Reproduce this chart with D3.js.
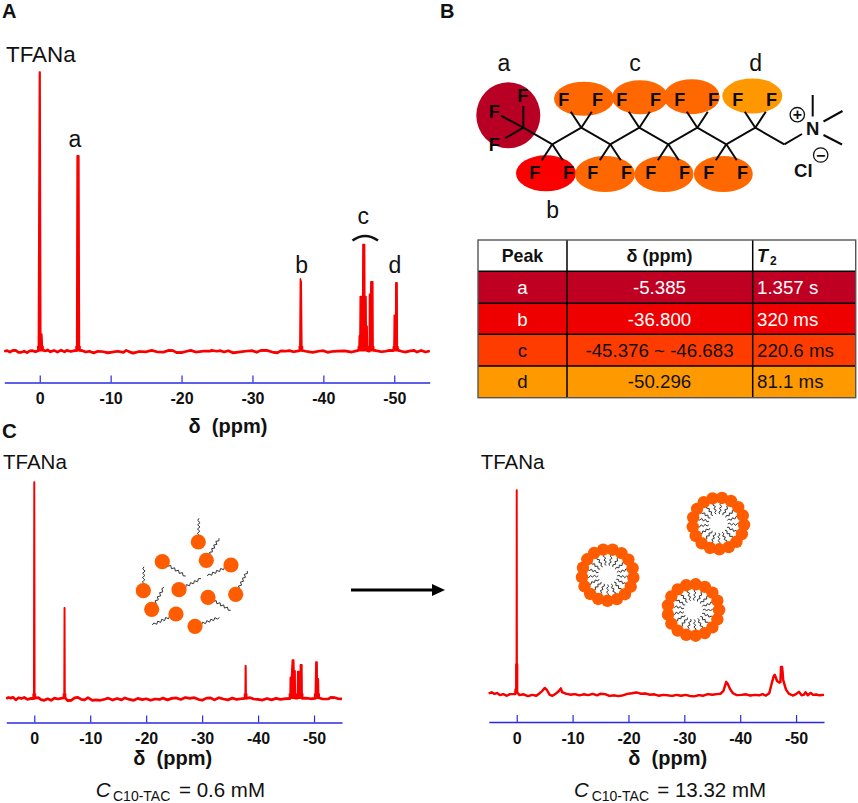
<!DOCTYPE html>
<html>
<head>
<meta charset="utf-8">
<script src="https://cdn.jsdelivr.net/npm/d3@7"></script>
<style>
  html, body { margin: 0; padding: 0; background: #fff; }
  svg { display: block; font-family: "Liberation Sans", Arial, sans-serif; }
</style>
</head>
<body>
<div id="chart"></div>
<script>
// tick labels shared by the three spectra
const ppmTicks = [0, -10, -20, -30, -40, -50];

// spectrum A: [ppm, relative intensity]
const spectrumA = [
  [5,.001],[4.6,.003],[4.2,-.002],[3.8,.004],[3.4,.004],[3,-.003],[2.6,-.003],[2.2,.001],[1.8,-.004],[1.4,.002],[1,.003],[.6,-.001],[.2,.003],
  [.05,1],[-.05,1],[-.15,.064],[-.3,.062],[-.4,.006],[-.8,.002],[-1.1,.006],[-1.5,-.001],[-2,.004],[-2.5,-.002],[-3,.005],[-3.5,-.001],[-3.8,.004],[-4.4,0],[-4.9,.003],
  [-5.2,.004],[-5.27,.7],[-5.52,.7],[-5.6,.005],[-6,.003],[-6.5,-.002],[-7,.001],[-7.6,-.005],[-8.2,.001],[-9,-.001],[-9.6,-.005],[-10.2,-.002],[-11,.001],[-11.8,-.003],[-12.2,.004],[-12.8,-.003],[-13.2,-.006],[-14,0],[-15,-.001],[-15.8,.004],[-16.5,-.001],[-17.5,-.002],
  [-18.2,.004],[-18.8,.003],[-19.3,-.004],[-20,-.004],[-20.6,0],[-21.3,.004],[-22,-.002],[-23,.001],[-24,.001],[-24.2,.004],[-25,.001],[-25.5,.003],[-26,-.002],[-26.6,.003],[-27.3,-.005],[-28,-.002],
  [-29,.001],[-30,.003],[-30.6,-.003],[-31.2,.004],[-32,.004],[-32.8,-.002],[-33.5,-.005],[-34,.002],[-34.6,.001],[-35.2,.003],[-35.8,-.001],[-36.5,.002],
  [-36.68,.004],[-36.76,.26],[-36.88,.25],[-36.98,.004],[-37.5,.001],[-38.5,-.003],[-39.3,.001],[-40,.003],[-40.6,-.003],[-41.2,0],[-42,.001],[-43,.002],[-44,-.002],[-44.8,.003],
  [-45.02,.008],[-45.06,.055],[-45.16,.06],[-45.2,.197],[-45.55,.197],[-45.58,.383],[-45.82,.383],[-45.85,.197],[-46.02,.197],[-46.05,.09],[-46.18,.09],[-46.22,.003],[-46.48,.001],
  [-46.5,.205],[-46.68,.205],[-46.7,.25],[-46.98,.25],[-47.02,.006],[-47.6,.002],[-48.2,-.001],[-48.8,.001],[-49.3,.004],[-49.85,.003],
  [-49.95,.01],[-50,.13],[-50.2,.13],[-50.22,.246],[-50.4,.246],[-50.44,.012],[-50.6,.004],[-51,.001],[-51.5,-.002],[-52.3,.002],[-52.8,.004],[-53.2,-.002],[-53.8,.004],[-54.4,-.002],[-55,.002]
];

// spectrum C, dilute sample
const spectrumC1 = [
  [5,.002],[4.6,.007],[4.2,.004],[3.8,.008],[3.3,-.004],[2.8,.006],[2.3,.002],[1.8,.007],[1.2,-.002],[.6,.003],[.1,.002],
  [.04,1],[-.04,1],[-.1,.004],[-.7,.006],[-1.2,-.003],[-1.8,-.006],[-2.4,.001],[-3,-.006],[-3.6,.004],[-4.2,0],[-5,.004],
  [-5.32,.005],[-5.37,.42],[-5.45,.42],[-5.5,.005],[-6,-.008],[-6.6,-.006],[-7.2,.005],[-7.8,.008],[-8.4,-.002],[-9,-.004],[-9.6,.006],[-10.4,-.006],[-11,-.004],[-11.8,-.006],[-12.6,-.001],[-13.2,.004],[-14,-.005],[-14.8,.002],[-15.6,-.004],[-16.2,.005],[-17,-.002],[-17.8,-.006],[-18.5,.003],[-19.3,-.003],[-20,.001],[-20.8,-.006],[-21.6,0],[-22.4,-.002],[-23,.004],[-23.8,-.004],[-24.6,.003],[-25.4,.005],[-26.2,-.002],[-27,.007],[-27.8,.003],[-28.6,.006],[-29.4,-.002],[-30,-.006],[-30.8,.004],[-31.5,.005],[-32.2,-.004],[-33,.006],[-33.8,0],[-34.6,-.004],[-35.4,.004],[-36.2,-.002],[-37,.001],
  [-37.68,.003],[-37.73,.153],[-37.83,.153],[-37.88,.003],[-38.6,.006],[-39.2,0],[-40,-.002],[-40.8,-.005],[-41.6,.002],[-42.4,-.004],[-43.2,.003],[-44,-.002],[-45,.002],[-45.7,.002],
  [-45.76,.1],[-45.98,.1],[-46.02,.13],[-46.12,.18],[-46.38,.18],[-46.42,.13],[-46.62,.13],[-46.66,.004],[-47.02,.004],
  [-47.08,.127],[-47.3,.127],[-47.34,.08],[-47.52,.08],[-47.56,.158],[-47.84,.158],[-47.88,.003],[-48.6,.004],[-49.4,.001],[-50.2,.003],
  [-50.33,.17],[-50.55,.17],[-50.58,.093],[-50.78,.093],[-50.84,.006],[-51.4,.001],[-52,0],[-52.6,.001],[-53,.008],[-53.6,.007],[-54.2,.002],[-55,.001]
];

// spectrum C, sample above the CMC
const spectrumC2 = [
  [5,.005],[4.5,.011],[4,.003],[3.5,.007],[3,-.003],[2.4,.002],[1.8,-.006],[1.2,.002],[.6,.002],[.25,.002],[.2,.025],[.08,.025],
  [.04,1],[-.04,1],[-.08,.01],[-.5,-.003],[-1.2,.001],[-2,-.008],[-2.8,-.002],[-3.5,-.006],[-4,.004],[-4.6,.018],[-5,.032],[-5.4,.022],[-5.9,-.002],[-6.4,-.006],[-7,.004],[-7.5,.016],[-7.9,.03],[-8.1,.012],[-8.8,.004],[-9.6,-.001],[-10.4,.002],[-11.2,-.004],[-12,.001],[-12.8,-.003],[-13.6,.003],[-14.4,-.004],[-15,.004],[-15.8,.002],[-16.6,-.007],[-17.4,-.004],[-18.2,-.008],[-19,-.004],[-19.8,.003],[-20.6,.006],[-21.4,.01],[-22.2,.004],[-23,.005],[-23.8,-.001],[-24.6,.001],[-25.4,-.006],[-26.2,-.002],[-27,-.004],[-27.8,-.007],[-28.6,-.002],[-29.4,-.006],[-30.2,-.002],[-31,-.007],[-31.8,-.009],[-32.6,-.003],[-33.4,-.006],[-34.2,.002],[-35,-.001],[-35.8,.002],[-36.5,.004],[-37,.018],[-37.5,.062],[-37.8,.05],[-38.2,.026],[-38.7,.006],[-39.4,-.003],[-40.2,-.002],[-41,.001],[-41.8,-.005],[-42.6,-.002],[-43.4,-.004],[-44,.002],[-44.6,-.005],[-45.2,.006],[-45.6,.05],[-46,.09],[-46.2,.096],[-46.6,.066],[-47,.058],[-47.2,.06],[-47.3,.135],[-47.5,.135],[-47.7,.07],[-48.2,.024],[-48.7,.004],[-49.4,-.005],[-50,.002],[-50.5,.013],[-51,-.004],[-51.4,-.001],[-51.7,.011],[-52.1,-.004],[-52.6,.008],[-53.1,-.002],[-53.6,0],[-54.2,-.004],[-55,-.002]
];

// peak table of panel B
const tablePeaks = ["a", "b", "c", "d"];
const tableShifts = ["-5.385", "-36.800", "-45.376 ~ -46.683", "-50.296"];
const tableT2 = ["1.357 s", "320 ms", "220.6 ms", "81.1 ms"];

const svg = d3.select("#chart").append("svg").attr("width", 858).attr("height", 803);
const defs = svg.append("defs");
const RED = "#f80000", BLUE = "#2a2ae0", HEAD = "#ff5c00", ORANGE = "#ff6800";

function label(x, y, txt, size, opts) {
  const o = opts || {};
  return svg.append("text").attr("x", x).attr("y", y)
    .attr("text-anchor", o.anchor || "start")
    .attr("font-size", size)
    .attr("font-weight", o.bold ? "bold" : "normal")
    .attr("fill", o.fill || "#111")
    .text(txt);
}

// one spectrum: axis + red trace + labels
function drawSpectrum(cfg) {
  const x = d3.scaleLinear().domain([5, -55]).range(cfg.xRange);
  const y = d3.scaleLinear().domain([0, 1]).range(cfg.yRange);
  const line = d3.line().x(d => x(d[0])).y(d => y(d[1]));
  const area = d3.area().x(d => x(d[0])).y0(y(0)).y1(d => y(d[1]));

  // solid under the multiplets (sharp spectra only)
  if (cfg.solid) svg.append("path").datum(cfg.data).attr("d", area).attr("fill", RED);
  svg.append("path").datum(cfg.data).attr("d", line)
    .attr("fill", "none").attr("stroke", RED)
    .attr("stroke-width", 1.5).attr("stroke-linejoin", "round");

  // baseline is drawn heavier than the tall narrow peaks
  defs.append("clipPath").attr("id", cfg.id).append("rect")
    .attr("x", cfg.xRange[0] - 2).attr("width", cfg.xRange[1] - cfg.xRange[0] + 4)
    .attr("y", y(cfg.band)).attr("height", y(-0.05) - y(cfg.band));
  svg.append("path").datum(cfg.data).attr("d", line)
    .attr("clip-path", `url(#${cfg.id})`)
    .attr("fill", "none").attr("stroke", RED)
    .attr("stroke-width", cfg.baseWidth).attr("stroke-linejoin", "round");

  const ax = svg.append("g").attr("transform", `translate(0,${cfg.axisY})`)
    .call(d3.axisBottom(x).tickValues(ppmTicks).tickFormat(d => String(d)).tickSize(-7).tickSizeOuter(0).tickPadding(10.5));
  ax.select(".domain").attr("stroke", BLUE).attr("stroke-width", 1.3);
  ax.selectAll("line").attr("stroke", BLUE).attr("stroke-width", 1.2);
  ax.selectAll("text").attr("font-size", 16).attr("font-weight", "bold")
    .attr("font-family", "Liberation Sans").attr("fill", "#111");

  svg.append("text").attr("x", cfg.titleX).attr("y", cfg.titleY).attr("text-anchor", "middle")
    .attr("font-size", 20).attr("font-weight", "bold").attr("fill", "#111")
    .text("δ\u00a0\u00a0(ppm)");
}

drawSpectrum({ id: "bandA", data: spectrumA, solid: true, xRange: [4.3, 429.7], yRange: [351.5, 72], axisY: 382.5, titleX: 228, titleY: 433, band: .02, baseWidth: 2.7 });
drawSpectrum({ id: "bandB", data: spectrumC1, solid: true, xRange: [6.3, 342], yRange: [699, 482], axisY: 722.5, titleX: 172.7, titleY: 765, band: .025, baseWidth: 2.7 });
drawSpectrum({ id: "bandC", data: spectrumC2, solid: false, xRange: [488.8, 824], yRange: [694.5, 490], axisY: 722, titleX: 667.7, titleY: 765, band: .15, baseWidth: 2.4 });

// panel letters
label(2, 18.2, "A", 20, { bold: true });
label(440, 18.2, "B", 20, { bold: true });
label(2, 438, "C", 20.5, { bold: true });

label(6, 62, "TFANa", 22.4);
label(3, 469, "TFANa", 20.5);
label(480.7, 469, "TFANa", 20.5);

// peak letters panel A
label(75, 147, "a", 23, { anchor: "middle" });
label(301.7, 273, "b", 23, { anchor: "middle" });
label(363.3, 224, "c", 23, { anchor: "middle" });
label(395, 273, "d", 23, { anchor: "middle" });
svg.append("path").attr("d", "M352.5,240.5Q365,231.5 378,240.5").attr("fill", "none").attr("stroke", "#111").attr("stroke-width", 2.6);

// captions under panel C
function caption(xC, xSub, xRest, rest) {
  const t = svg.append("text").attr("y", 796.5).attr("fill", "#111").attr("font-size", 20.5);
  t.append("tspan").attr("x", xC).attr("font-style", "italic").text("C");
  t.append("tspan").attr("x", xSub).attr("dy", 4.5).attr("font-size", 14).text("C10-TAC");
  t.append("tspan").attr("x", xRest).attr("dy", -4.5).text(rest);
}
caption(95.7, 113, 179, "= 0.6 mM");
caption(574, 591.7, 657.3, "= 13.32 mM");

// arrow between the two spectra
svg.append("line").attr("x1", 351).attr("x2", 434).attr("y1", 590).attr("y2", 590).attr("stroke", "#000").attr("stroke-width", 3);
svg.append("path").attr("d", "M432,584L445,590L432,596Z").attr("fill", "#000");

// wavy tail between two points
function squiggle(x0, y0, x1, y1, amp, step) {
  const len = Math.hypot(x1 - x0, y1 - y0), n = Math.round(len / step);
  const ux = (x1 - x0) / len, uy = (y1 - y0) / len;
  const pts = d3.range(n + 1).map(i => {
    const s = i / n * len, off = i === 0 || i === n ? 0 : (i % 2 ? amp : -amp);
    return [x0 + ux * s - uy * off, y0 + uy * s + ux * off];
  });
  svg.append("path").attr("d", d3.line()(pts)).attr("fill", "none").attr("stroke", "#333").attr("stroke-width", 1);
}

// free surfactants, dilute sample (head, tail end)
const freeHeads = [
  [198.3, 542, 199, 518.3], [206.3, 560.3, 219, 538.3], [231, 565, 207.3, 576], [162.3, 561.7, 185.7, 576],
  [179, 589.7, 201, 578.7], [143.3, 590.7, 144, 566.7], [151.7, 609.3, 164, 587.3], [176, 614, 152.3, 625],
  [208, 597.3, 230.7, 610.3], [235.7, 594.3, 247.3, 571], [195, 626.3, 219.3, 617.3]
];
freeHeads.forEach(h => {
  squiggle(h[0], h[1], h[2], h[3], 1.2, 2.2);
  svg.append("circle").attr("cx", h[0]).attr("cy", h[1]).attr("r", 7.6).attr("fill", HEAD);
});

// micelles
function micelle(cx, cy, rot) {
  const n = 17;
  d3.range(n).forEach(k => {
    const a = rot + k / n * 2 * Math.PI, c = Math.cos(a), s = Math.sin(a);
    squiggle(cx + 21 * c, cy + 21 * s, cx + 9.5 * c, cy + 9.5 * s, 1, 1.9);
  });
  d3.range(n).forEach(k => {
    const a = rot + k / n * 2 * Math.PI;
    svg.append("circle").attr("cx", cx + 25.8 * Math.cos(a)).attr("cy", cy + 25.8 * Math.sin(a)).attr("r", 6.2).attr("fill", HEAD);
  });
}
micelle(718.3, 523.5, 0.05);
micelle(607.7, 575, 0.1);
micelle(693.3, 610, 0.0);

// panel B: molecule
const ellipses = [
  [508.3, 115.3, 32, 33, "#b70023"],
  [584, 98.7, 30, 17, ORANGE], [640, 97.3, 28, 17, ORANGE], [691.7, 96.7, 28, 17.5, ORANGE], [752.3, 96, 30, 17.5, "#ff9800"],
  [546, 173.3, 30, 18, "#fb0000"], [605, 174, 30, 18, ORANGE], [664, 174, 29.5, 18, ORANGE], [723.3, 174, 29.5, 18, ORANGE]
];
svg.append("g").selectAll("ellipse").data(ellipses).join("ellipse")
  .attr("cx", d => d[0]).attr("cy", d => d[1]).attr("rx", d => d[2]).attr("ry", d => d[3]).attr("fill", d => d[4]);

const nodeX = d3.scaleLinear().domain([0, 9]).range([523.3, 784.3]);
const nodeY = i => (i % 2 ? 144.3 : 127.7);
const backbone = d3.range(10).map(i => [nodeX(i), nodeY(i)]);
const bonds = [];
const fluorines = [[522.7, 95], [494.3, 111], [494.3, 144]];
bonds.push([523.3, 127.7, 523.3, 106], [523.3, 127.7, 501, 115.7], [523.3, 127.7, 505, 138.3]);
d3.range(1, 9).forEach(i => {
  const X = nodeX(i), Y = nodeY(i), dir = i % 2 ? 1 : -1;
  bonds.push([X, Y, X - 10.5, Y + dir * 16], [X, Y, X + 10.5, Y + dir * 16]);
  fluorines.push([X - 17.5, Y + dir * 28.5], [X + 16.3, Y + dir * 28.5]);
});
bonds.push([784.3, 144.3, 802, 134], [812.7, 95, 812.7, 116.5], [823.5, 121.5, 842.5, 111], [823.5, 135, 842, 144.5]);

svg.append("path").attr("d", d3.line()(backbone)).attr("fill", "none").attr("stroke", "#0a0a0a").attr("stroke-width", 2);
svg.append("g").selectAll("line").data(bonds).join("line")
  .attr("x1", d => d[0]).attr("y1", d => d[1]).attr("x2", d => d[2]).attr("y2", d => d[3])
  .attr("stroke", "#0a0a0a").attr("stroke-width", 2);
svg.append("g").selectAll("text").data(fluorines).join("text")
  .attr("x", d => d[0]).attr("y", d => d[1] + 6.5).attr("text-anchor", "middle")
  .attr("font-size", 18).attr("font-weight", "bold").attr("fill", "#0a0a0a").text("F");

label(812.7, 135, "N", 18.5, { bold: true, anchor: "middle" });
label(803.3, 176.5, "Cl", 18.5, { bold: true, anchor: "middle" });
[[797.3, 114.7, "+"], [820.7, 155, "−"]].forEach(c => {
  svg.append("circle").attr("cx", c[0]).attr("cy", c[1]).attr("r", 7.2).attr("fill", "#fff").attr("stroke", "#111").attr("stroke-width", 1.3);
  label(c[0], c[1] + 5.5, c[2], 16, { bold: true, anchor: "middle" });
});

label(504, 70.5, "a", 23, { anchor: "middle" });
label(635, 70.5, "c", 23, { anchor: "middle" });
label(755.7, 70.5, "d", 23, { anchor: "middle" });
label(552.7, 217.5, "b", 23, { anchor: "middle" });

// panel B: table
const colEdges = [478, 567, 752.7, 855.7];
const rowEdges = [240, 271.3, 303.3, 334.3, 366, 397.7];
const rowFill = ["#fff", "#c00022", "#ee0000", "#ff3c00", "#ff9900"];
const rowText = ["#111", "#fff", "#fff", "#111", "#111"];
rowFill.forEach((f, r) => {
  svg.append("rect").attr("x", colEdges[0]).attr("y", rowEdges[r]).attr("width", colEdges[3] - colEdges[0])
    .attr("height", rowEdges[r + 1] - rowEdges[r]).attr("fill", f);
});
rowEdges.slice(1, -1).forEach(y => {
  svg.append("line").attr("x1", colEdges[0]).attr("x2", colEdges[3]).attr("y1", y).attr("y2", y).attr("stroke", "#000").attr("stroke-width", 1.5);
});
colEdges.slice(1, -1).forEach(x => {
  svg.append("line").attr("x1", x).attr("x2", x).attr("y1", rowEdges[0]).attr("y2", rowEdges[5]).attr("stroke", "#000").attr("stroke-width", 1.5);
});
svg.append("rect").attr("x", colEdges[0]).attr("y", rowEdges[0]).attr("width", colEdges[3] - colEdges[0])
  .attr("height", rowEdges[5] - rowEdges[0]).attr("fill", "none").attr("stroke", "#555").attr("stroke-width", 1.4);

label(522.5, 261.7, "Peak", 17.8, { bold: true, anchor: "middle" });
label(659.5, 261.7, "δ (ppm)", 18, { bold: true, anchor: "middle" });
const t2 = svg.append("text").attr("x", 757).attr("y", 261.7).attr("font-weight", "bold").attr("fill", "#111").attr("font-size", 18);
t2.append("tspan").attr("font-style", "italic").text("T");
t2.append("tspan").attr("dx", 2).attr("dy", 3).attr("font-size", 12).text("2");

tablePeaks.forEach((p, i) => {
  const base = rowEdges[i + 1] + 22.3, col = rowText[i + 1];
  label(522.5, base, p, 18.7, { anchor: "middle", fill: col });
  label(659.5, base, tableShifts[i], 18.7, { anchor: "middle", fill: col });
  label(757, base, tableT2[i], 18.7, { fill: col });
});
</script>
</body>
</html>
